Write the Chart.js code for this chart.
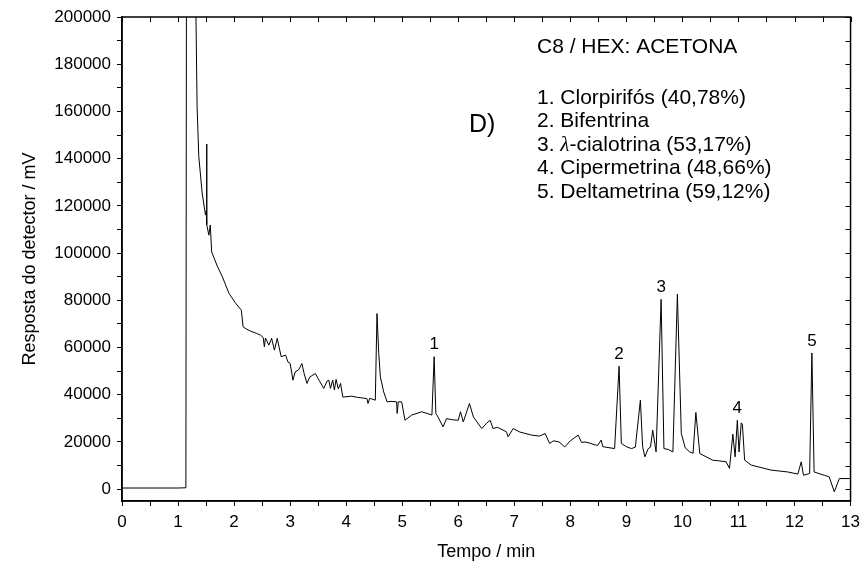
<!DOCTYPE html>
<html>
<head>
<meta charset="utf-8">
<script src="https://cdn.jsdelivr.net/npm/chart.js@4.4.1/dist/chart.umd.min.js"></script>
<style>
  html, body { margin: 0; padding: 0; background: #fff; }
</style>
</head>
<body>
<canvas id="chrom" width="866" height="570"></canvas>
<script>
// Chromatogram trace: retention time (min) and detector response (mV)
const retentionTimes = [
  0, 1.0, 1.14, 1.15, 1.31, 1.32, 1.34, 1.37, 1.43, 1.49, 1.505, 1.51, 1.515, 1.55, 1.575, 1.60,
  1.70, 1.79, 1.91, 2.02, 2.13, 2.16, 2.22, 2.30, 2.40, 2.47, 2.52, 2.54, 2.56, 2.58, 2.62, 2.67,
  2.72, 2.77, 2.84, 2.92, 2.96, 3.00, 3.05, 3.09, 3.15, 3.21, 3.25, 3.30, 3.35, 3.45, 3.52, 3.60,
  3.66, 3.69, 3.72, 3.76, 3.79, 3.82, 3.86, 3.90, 3.94, 3.98, 4.10, 4.20, 4.30, 4.37, 4.39, 4.42,
  4.52, 4.55, 4.58, 4.61, 4.67, 4.73, 4.80, 4.90, 4.91, 4.93, 4.99, 5.05, 5.17, 5.35, 5.53, 5.57,
  5.60, 5.62, 5.73, 5.79, 5.90, 6.00, 6.04, 6.09, 6.20, 6.27, 6.35, 6.42, 6.50, 6.57, 6.62, 6.70,
  6.86, 6.89, 6.98, 7.10, 7.31, 7.45, 7.55, 7.63, 7.70, 7.80, 7.90, 8.00, 8.14, 8.20, 8.26, 8.35,
  8.43, 8.49, 8.55, 8.58, 8.79, 8.87, 8.91, 9.00, 9.09, 9.16, 9.25, 9.29, 9.33, 9.39, 9.43, 9.47,
  9.53, 9.62, 9.67, 9.75, 9.83, 9.91, 9.98, 10.05, 10.13, 10.19, 10.24, 10.31, 10.54, 10.65, 10.78, 10.84,
  10.90, 10.94, 10.98, 11.01, 11.05, 11.07, 11.11, 11.23, 11.58, 11.88, 12.06, 12.12, 12.16, 12.27, 12.31, 12.35,
  12.53, 12.62, 12.71, 12.80, 12.98, 13.0
];
const detectorResponse = [
  500, 500, 600, 215000, 215000, 200000, 162000, 141000, 125500, 116100, 118000, 146200, 112000, 107600, 111900, 100500,
  94500, 90000, 82900, 79000, 75800, 68800, 67800, 66900, 66000, 65300, 64200, 60300, 64000, 63100, 61000, 63900,
  58900, 63900, 56100, 56800, 53900, 53300, 46200, 49700, 50500, 53200, 49000, 44800, 47500, 49000, 46000, 42700,
  45800, 46200, 42700, 46200, 42000, 46500, 42500, 44800, 39000, 39100, 39400, 38900, 38600, 38400, 36300, 38500,
  37700, 74400, 58000, 47600, 41200, 37000, 37200, 37000, 32100, 37000, 37000, 29200, 31400, 32800, 31400, 56100,
  32000, 31400, 26400, 29900, 29400, 29200, 32800, 28500, 36300, 30600, 28000, 25700, 27800, 29200, 25700, 26200,
  24300, 22200, 25700, 24200, 22900, 22500, 23600, 19400, 20500, 20000, 17900, 20500, 22900, 19800, 20000, 19500,
  18800, 18600, 20800, 18000, 17200, 52100, 19400, 18000, 17200, 17800, 37700, 18000, 13700, 17200, 17800, 25000,
  15800, 80400, 17200, 16800, 15800, 82600, 23600, 17500, 15800, 15200, 32500, 15100, 12300, 12000, 11600, 8800,
  23300, 13700, 29200, 15800, 28100, 27500, 12300, 10200, 8100, 7300, 6400, 11600, 5900, 6700, 57700, 7300,
  5900, 5200, -1100, 4500, 4500, 4500
];

const xTickLabels = [0, 1, 2, 3, 4, 5, 6, 7, 8, 9, 10, 11, 12, 13];
const yTickLabels = [0, 20000, 40000, 60000, 80000, 100000, 120000, 140000, 160000, 180000, 200000];

// Numbered peaks
const peakNumbers = ['1', '2', '3', '4', '5'];
const peakTimes = [5.57, 8.87, 9.62, 10.98, 12.31];

const panelLetter = 'D)';
const legendTitle = 'C8 / HEX: ACETONA';
const compoundNames = [
  '1. Clorpirifós (40,78%)',
  '2. Bifentrina',
  '3. λ-cialotrina (53,17%)',
  '4. Cipermetrina (48,66%)',
  '5. Deltametrina (59,12%)'
];

const FONT = '"Liberation Sans", Arial, sans-serif';

// major ticks plus a minor tick halfway between each pair
function withMinor(list) {
  const out = [];
  list.forEach((v, i) => {
    out.push(v);
    if (i < list.length - 1) out.push((v + list[i + 1]) / 2);
  });
  return out;
}

const points = retentionTimes.map((t, i) => ({ x: t, y: detectorResponse[i] }));

// frame, inward ticks on top/right, titles and annotations
const decorations = {
  id: 'decorations',
  afterDraw(chart) {
    const { ctx, chartArea: a, scales } = chart;
    const xs = scales.x, ys = scales.y;
    ctx.save();
    ctx.strokeStyle = '#000';
    ctx.lineWidth = 1.5;
    ctx.strokeRect(a.left, a.top, a.right - a.left, a.bottom - a.top);

    ctx.lineWidth = 1;
    ctx.beginPath();
    withMinor(xTickLabels).forEach(v => {
      const px = Math.round(xs.getPixelForValue(v)) + 0.5;
      ctx.moveTo(px, a.top);
      ctx.lineTo(px, a.top + 5);
    });
    withMinor(yTickLabels).forEach(v => {
      const py = Math.round(ys.getPixelForValue(v)) + 0.5;
      ctx.moveTo(a.right, py);
      ctx.lineTo(a.right - 5, py);
    });
    ctx.stroke();

    ctx.fillStyle = '#000';
    ctx.textBaseline = 'middle';

    // axis titles
    ctx.font = '18px ' + FONT;
    ctx.textAlign = 'center';
    ctx.fillText('Tempo / min', (a.left + a.right) / 2, 552);
    ctx.save();
    ctx.translate(30, (a.top + a.bottom) / 2);
    ctx.rotate(-Math.PI / 2);
    ctx.fillText('Resposta do detector / mV', 0, 0);
    ctx.restore();

    // peak numbers above each peak
    ctx.font = '17px ' + FONT;
    peakNumbers.forEach((label, i) => {
      const idx = retentionTimes.indexOf(peakTimes[i]);
      const px = xs.getPixelForValue(peakTimes[i]);
      const py = ys.getPixelForValue(detectorResponse[idx]);
      ctx.fillText(label, px, py - 12);
    });

    // panel letter and compound list
    ctx.textAlign = 'left';
    ctx.font = '25px ' + FONT;
    ctx.fillText(panelLetter, 469, 125);

    const listFont = '21px ' + FONT;
    ctx.font = listFont;
    ctx.fillText(legendTitle, 537, 47);
    compoundNames.forEach((line, i) => {
      const y = 98 + i * 23.5;
      const parts = line.split('λ');
      let x = 537;
      parts.forEach((part, j) => {
        if (j > 0) {
          ctx.font = 'italic 21px "Liberation Serif", "Times New Roman", serif';
          ctx.fillText('λ', x, y);
          x += ctx.measureText('λ').width;
          ctx.font = listFont;
        }
        ctx.fillText(part, x, y);
        x += ctx.measureText(part).width;
      });
    });
    ctx.restore();
  }
};

new Chart(document.getElementById('chrom').getContext('2d'), {
  type: 'line',
  data: {
    datasets: [{
      data: points,
      borderColor: '#000',
      borderWidth: 1,
      pointRadius: 0,
      tension: 0,
      fill: false
    }]
  },
  options: {
    responsive: false,
    animation: false,
    layout: { padding: { top: 17, right: 13, left: 0, bottom: 0 } },
    plugins: {
      legend: { display: false },
      tooltip: { enabled: false }
    },
    scales: {
      x: {
        type: 'linear',
        min: 0,
        max: 13,
        afterBuildTicks: s => { s.ticks = withMinor(xTickLabels).map(v => ({ value: v })); },
        afterFit: s => { s.height = 69; },
        ticks: {
          autoSkip: false,
          maxRotation: 0,
          padding: 6,
          color: '#000',
          font: { family: FONT, size: 17 },
          callback: v => (xTickLabels.includes(v) ? String(v) : '')
        },
        grid: { drawOnChartArea: false, tickLength: 5, color: '#000' },
        border: { color: '#000', width: 1.5 }
      },
      y: {
        type: 'linear',
        min: -5000,
        max: 200000,
        afterBuildTicks: s => { s.ticks = withMinor(yTickLabels).map(v => ({ value: v })); },
        afterFit: s => { s.width = 122; },
        ticks: {
          autoSkip: false,
          padding: 6,
          color: '#000',
          font: { family: FONT, size: 17 },
          callback: v => (yTickLabels.includes(v) ? String(v) : '')
        },
        grid: { drawOnChartArea: false, tickLength: 5, color: '#000' },
        border: { color: '#000', width: 1.5 }
      }
    }
  },
  plugins: [decorations]
});
</script>
</body>
</html>
